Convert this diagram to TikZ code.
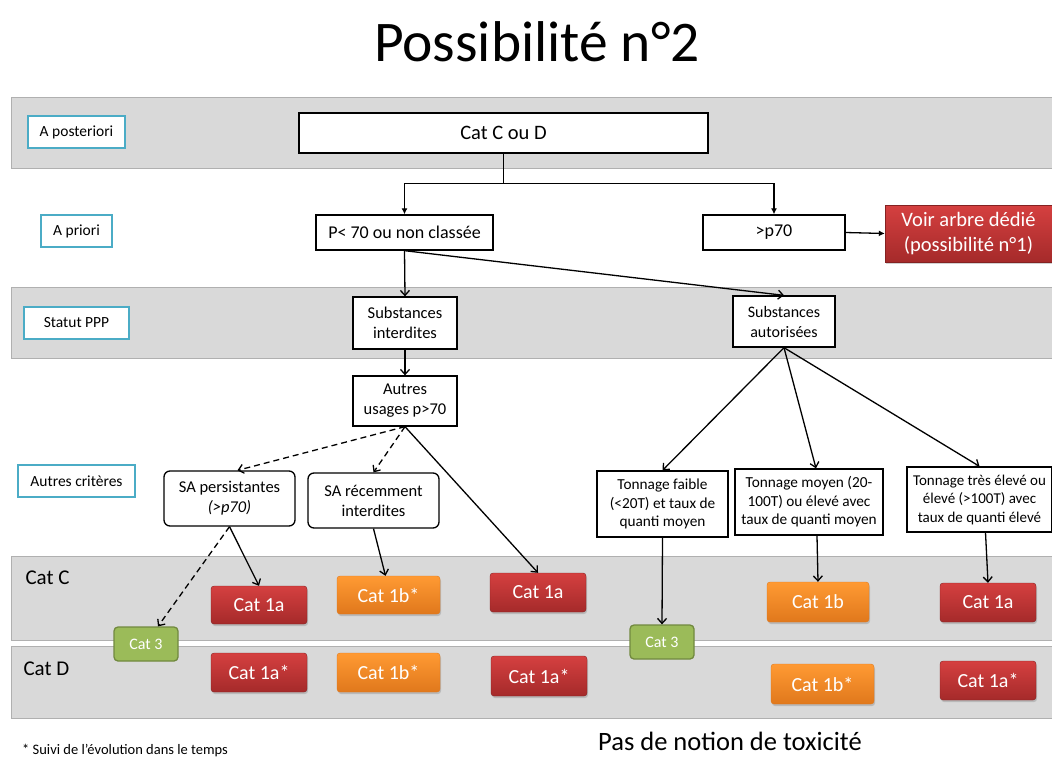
\documentclass[tikz,border=0pt]{standalone}
\usepackage{fontspec}
\setmainfont{Carlito}
\usetikzlibrary{arrows.meta,shadows}
\definecolor{bandfill}{HTML}{D9D9D9}
\definecolor{bandline}{HTML}{B0B0B0}
\definecolor{lblline}{HTML}{4BACC6}
\definecolor{redtop}{HTML}{D54040}
\definecolor{redbot}{HTML}{A52A2A}
\definecolor{orgtop}{HTML}{FF9A33}
\definecolor{orgbot}{HTML}{E0781C}
\definecolor{grnfill}{HTML}{9BBB59}
\definecolor{grnline}{HTML}{71893F}
\tikzset{
  band/.style={fill=bandfill,draw=bandline,line width=1pt},
  lbl/.style={draw=lblline,line width=1.6pt,fill=white,inner sep=0pt,font=\fontsize{15.5}{18}\selectfont},
  wbox/.style={draw=black,line width=1.3pt,fill=white,inner sep=1pt,align=center,font=\fontsize{16.5}{20}\selectfont},
  rbox/.style={wbox,rounded corners=6pt},
  redc/.style={rounded corners=3pt,top color=redtop,bottom color=redbot,draw=redbot!80!black,line width=0.4pt,text=white,font=\fontsize{20}{23}\selectfont,inner sep=0pt,drop shadow={shadow xshift=1pt,shadow yshift=-2pt,opacity=0.35}},
  orgc/.style={redc,top color=orgtop,bottom color=orgbot,draw=orgbot},
  grnc/.style={rounded corners=4pt,fill=grnfill,draw=grnline,line width=1.3pt,text=white,font=\fontsize{16}{18}\selectfont,inner sep=0pt},
  conn/.style={line width=1.3pt,-{Straight Barb[length=5pt,width=9pt]}},
  connf/.style={line width=1.3pt,-{Latex[length=6pt,width=6pt]}},
  dconn/.style={conn,dash pattern=on 6pt off 4pt},
}
\begin{document}
\begin{tikzpicture}[x=1pt,y=-1pt]
\useasboundingbox (0,0) rectangle (1052,758);
% bands
\fill[white] (0,0) rectangle (1052,758);
\draw[band] (11,97) rectangle (1062,168);
\draw[band] (11,287) rectangle (1062,358);
\draw[band] (11,556) rectangle (1062,640);
\draw[band] (11,646) rectangle (1062,718);
% title
\node (title) at (537,42) {\fontsize{57.5}{62}\selectfont Possibilité n°2};
% row labels
\node[lbl,minimum width=97pt,minimum height=32pt] (lpost) at (76.5,132) {A posteriori};
\node[lbl,minimum width=71pt,minimum height=32pt] (lprio) at (76.5,231) {A priori};
\node[lbl,minimum width=105pt,minimum height=32pt] (lppp) at (76.5,323) {Statut PPP};
\node[lbl,minimum width=117pt,minimum height=32pt] (lautr) at (76.5,481) {Autres critères};
\node[font=\fontsize{21}{24}\selectfont,anchor=west] (lcatc) at (22,578) {Cat C};
\node[font=\fontsize{21}{24}\selectfont,anchor=west] (lcatd) at (20,669) {Cat D};
% main boxes
\node[wbox,minimum width=409pt,minimum height=40pt,font=\fontsize{20.5}{24}\selectfont] (catCD) at (503.5,133) {Cat C ou D};
\node[wbox,minimum width=177pt,minimum height=35pt,font=\fontsize{18}{21}\selectfont] (plow) at (404.5,232.5) {P< 70 ou non classée};
\node[wbox,minimum width=142pt,minimum height=35pt,font=\fontsize{18}{21}\selectfont] (pgt) at (774,232.5) {>p70};
\node[redc,minimum width=167pt,minimum height=57pt,align=center,font=\fontsize{20.5}{25}\selectfont,rounded corners=0pt] (voir) at (968.5,233.5) {Voir arbre dédié\\(possibilité n°1)};
\node[wbox,minimum width=104pt,minimum height=52pt] (subi) at (405,323) {Substances\\interdites};
\node[wbox,minimum width=102pt,minimum height=51pt,font=\fontsize{16}{20}\selectfont] (suba) at (784,321.5) {Substances\\autorisées};
\node[wbox,minimum width=104pt,minimum height=50pt] (autres) at (405,401) {Autres\\usages p>70};
\node[rbox,minimum width=131pt,minimum height=55pt] (sap) at (229.5,498.5) {SA persistantes\\\textit{(>p70)}};
\node[rbox,minimum width=131pt,minimum height=55pt] (sar) at (373.5,500.5) {SA récemment\\interdites};
\node[wbox,minimum width=131pt,minimum height=66pt,font=\fontsize{15.3}{18.5}\selectfont] (tf) at (662.5,504) {Tonnage faible\\(<20T) et taux de\\quanti moyen};
\node[wbox,minimum width=148pt,minimum height=66pt,font=\fontsize{15.3}{18.5}\selectfont] (tm) at (809,502) {Tonnage moyen (20-\\100T) ou élevé avec\\taux de quanti moyen};
\node[wbox,minimum width=145pt,minimum height=65pt,font=\fontsize{15}{18.5}\selectfont] (tt) at (979.5,499.5) {Tonnage très élevé ou\\élevé (>100T) avec\\taux de quanti élevé};
% categories
\node[redc,minimum width=96pt,minimum height=38pt] (c1a1) at (259,605) {Cat 1a};
\node[orgc,minimum width=103pt,minimum height=38pt] (c1b1) at (388.5,595) {Cat 1b*};
\node[redc,minimum width=96pt,minimum height=39pt] (c1a2) at (538,592.5) {Cat 1a};
\node[orgc,minimum width=102pt,minimum height=40pt] (c1b2) at (818,602) {Cat 1b};
\node[redc,minimum width=96pt,minimum height=39pt] (c1a3) at (988,602.5) {Cat 1a};
\node[redc,minimum width=96pt,minimum height=39pt] (d1a1) at (259,672.5) {Cat 1a*};
\node[orgc,minimum width=103pt,minimum height=39pt] (d1b1) at (388.5,672.5) {Cat 1b*};
\node[redc,minimum width=96pt,minimum height=40pt] (d1a2) at (539,676) {Cat 1a*};
\node[orgc,minimum width=103pt,minimum height=40pt] (d1b2) at (822.5,684) {Cat 1b*};
\node[redc,minimum width=96pt,minimum height=39pt] (d1a3) at (988,680.5) {Cat 1a*};
\node[grnc,minimum width=64pt,minimum height=34pt] (c31) at (146,644) {Cat 3};
\node[grnc,minimum width=64pt,minimum height=34pt] (c32) at (662,642) {Cat 3};
% connectors
\draw[line width=1.3pt] (catCD.south) -- ++(0,30) coordinate (split);
\draw[connf] (split) -| (plow.north);
\draw[connf] (split) -| (pgt.north);
\draw[connf] (pgt.east) -- (voir.west);
\draw[conn] (plow.south) -- (subi.north);
\draw[conn] (plow.south) -- (suba.north);
\draw[conn] (subi.south) -- (autres.north);
\draw[dconn] (autres.south) -- ([xshift=8pt]sap.north);
\draw[dconn] (autres.south) -- (sar.north);
\draw[conn] (autres.south) -- (c1a2.north);
\draw[dconn] (sap.south) -- ([xshift=12pt]c31.north);
\draw[conn] (sap.south) -- (c1a1.north);
\draw[conn] (sar.south) -- ([xshift=-3pt]c1b1.north);
\draw[conn] (suba.south) -- (tf.north);
\draw[conn] (suba.south) -- ([xshift=7pt]tm.north);
\draw[conn] (suba.south) -- (tt.north);
\draw[conn] (tf.south) -- (c32.north);
\draw[conn] ([xshift=8pt]tm.south) -- (c1b2.north);
\draw[conn] ([xshift=6pt]tt.south) -- (c1a3.north);
% footer texts
\node[anchor=base west,font=\fontsize{14.5}{16}\selectfont,inner sep=0pt] (foot) at (22,754) {* Suivi de l’évolution dans le temps};
\node[anchor=base,font=\fontsize{26.5}{30}\selectfont,inner sep=0pt] (pas) at (730,750) {Pas de notion de toxicité};
\end{tikzpicture}
\end{document}
